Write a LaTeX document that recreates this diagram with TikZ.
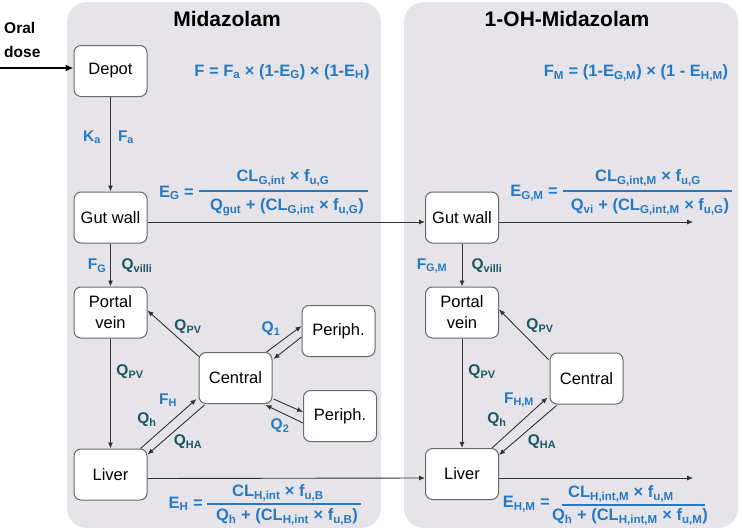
\documentclass[tikz,border=0pt]{standalone}
\usepackage{fontspec}
\setmainfont{Liberation Sans}
\usetikzlibrary{arrows.meta}
\definecolor{panelgray}{RGB}{230,228,233}
\definecolor{lblblue}{RGB}{38,122,196}
\definecolor{lblteal}{RGB}{28,88,100}
\definecolor{boxline}{RGB}{105,105,105}
\definecolor{connc}{RGB}{50,50,50}
\newcommand{\sbs}[1]{\textsubscript{#1}}
\tikzset{
  panel/.style={fill=panelgray, draw=none, rounded corners=20pt},
  cbox/.style={draw=boxline, fill=white, rounded corners=7pt, line width=1pt, minimum width=73pt, minimum height=51pt, inner sep=2pt, font=\fontsize{16.5}{21}\selectfont, align=center},
  ttl/.style={font=\fontsize{21}{24}\selectfont\bfseries, inner sep=0pt},
  bl/.style={text=lblblue, font=\fontsize{15.5}{17}\selectfont\bfseries, inner sep=0pt},
  tl/.style={text=lblteal, font=\fontsize{15.5}{17}\selectfont\bfseries, inner sep=0pt},
  fml/.style={text=lblblue, font=\fontsize{16.5}{18}\selectfont\bfseries, inner sep=0pt},
  fline/.style={draw=lblblue, line width=1.3pt},
  conn/.style={draw=connc, line width=0.9pt},
  arr/.style={conn, -{Latex[length=6pt,width=5pt]}},
}
\begin{document}
\begin{tikzpicture}[x=1pt, y=-1pt]
\useasboundingbox (0,0) rectangle (742,530);
% panels
\path[panel] (67,2) rectangle (381,528);
\path[panel] (404,2) rectangle (738,528);
\node[ttl] (t1) at (227,19) {Midazolam};
\node[ttl] (t2) at (567,19) {1-OH-Midazolam};
% oral dose
\node[font=\fontsize{15.5}{24}\selectfont\bfseries, align=left, anchor=west, inner sep=0pt] (oral) at (4,40) {Oral\\dose};
\coordinate (oin) at (0,68);
% left boxes
\node[cbox] (dep) at (110.5,71) {Depot};
\node[cbox] (lgut) at (110.5,217.5) {Gut wall};
\node[cbox] (lpv) at (110.5,312.5) {Portal\\vein};
\node[cbox] (lcen) at (235.5,378) {Central};
\node[cbox] (p1) at (338.5,331) {Periph.};
\node[cbox] (p2) at (340,416) {Periph.};
\node[cbox] (lliv) at (110.5,474.5) {Liver};
% right boxes
\node[cbox] (rgut) at (462,217.5) {Gut wall};
\node[cbox] (rpv) at (462,312.5) {Portal\\vein};
\node[cbox] (rcen) at (586.5,378.5) {Central};
\node[cbox] (rliv) at (462,474) {Liver};
\coordinate (gout) at (693,222);
\coordinate (lout) at (693,478);
% connectors
\draw[arr, line width=2pt, draw=black, -{Latex[length=8pt,width=7pt]}] (oin) -- ([yshift=3pt]dep.west);
\draw[arr] (dep) -- (lgut);
\draw[arr] (lgut) -- (lpv);
\draw[arr] (lpv) -- (lliv);
\draw[arr] ([xshift=1pt,yshift=-5pt]lcen.north west) -- ([yshift=2pt]lpv.east);
\draw[arr] ([xshift=-7pt]lliv.north east) -- ([xshift=-2pt,yshift=5pt]lcen.south west);
\draw[arr] ([xshift=6pt,yshift=-1pt]lcen.south west) -- ([yshift=-6pt]lliv.north east);
\draw[arr] ([xshift=-6pt]lcen.north east) -- ([yshift=5pt]p1.west);
\draw[arr] ([yshift=-6pt]p1.west) -- ([xshift=1pt,yshift=-7pt]lcen.north east);
\draw[arr] ([xshift=1pt,yshift=5pt]lcen.south east) -- ([yshift=4pt]p2.west);
\draw[arr] ([yshift=-7pt]p2.west) -- ([xshift=-7pt,yshift=-1pt]lcen.south east);
\draw[arr] ([yshift=-4.5pt]lgut.east) -- ([yshift=-4.5pt]rgut.west);
\draw[arr] ([yshift=-4pt]lliv.east) -- ([yshift=-4pt]rliv.west);
\draw[arr] ([yshift=-4.5pt]rgut.east) -- (gout);
\draw[arr] ([yshift=-4pt]rliv.east) -- (lout);
\draw[arr] (rgut) -- (rpv);
\draw[arr] (rpv) -- (rliv);
\draw[arr] ([xshift=-1pt,yshift=-7pt]rcen.north west) -- ([yshift=3pt]rpv.east);
\draw[arr] ([xshift=-7pt]rliv.north east) -- ([xshift=-2pt,yshift=7pt]rcen.south west);
\draw[arr] ([xshift=7pt,yshift=-1pt]rcen.south west) -- ([yshift=-7pt]rliv.north east);
% labels left
\node[bl] (ka) at (92,137) {K\sbs{a}};
\node[bl] (fa) at (126,137) {F\sbs{a}};
\node[bl] (fg) at (97,266) {F\sbs{G}};
\node[tl] (qv1) at (137,266) {Q\sbs{villi}};
\node[tl] (qpv1) at (188,327) {Q\sbs{PV}};
\node[tl] (qpv2) at (130,372) {Q\sbs{PV}};
\node[bl] (q1) at (271,329) {Q\sbs{1}};
\node[bl] (q2) at (280,426) {Q\sbs{2}};
\node[bl] (fh) at (168,400) {F\sbs{H}};
\node[tl] (qh1) at (147,420) {Q\sbs{h}};
\node[tl] (qha1) at (188,442) {Q\sbs{HA}};
% labels right
\node[bl] (fgm) at (432,266) {F\sbs{G,M}};
\node[tl] (qv2) at (487,266) {Q\sbs{villi}};
\node[tl] (qpv3) at (540,326) {Q\sbs{PV}};
\node[tl] (qpv4) at (482,372) {Q\sbs{PV}};
\node[bl] (fhm) at (519,400) {F\sbs{H,M}};
\node[tl] (qh2) at (497,420) {Q\sbs{h}};
\node[tl] (qha2) at (542,442) {Q\sbs{HA}};
% formulas
\node[fml] (ff) at (282,72) {F = F\sbs{a} × (1-E\sbs{G}) × (1-E\sbs{H})};
\node[fml] (ffm) at (636,73) {F\sbs{M} = (1-E\sbs{G,M}) × (1 - E\sbs{H,M})};
% E_G
\node[fml, anchor=east] (eg) at (194,193) {E\sbs{G} =};
\node[fml] (egn) at (283,178) {CL\sbs{G,int} × f\sbs{u,G}};
\node[fml] (egd) at (287,207) {Q\sbs{gut} + (CL\sbs{G,int} × f\sbs{u,G})};
\coordinate (eg1) at (199,191); \coordinate (eg2) at (368,191);
\draw[fline] (eg1) -- (eg2);
% E_GM
\node[fml, anchor=east] (egm) at (558,193) {E\sbs{G,M} =};
\node[fml] (egmn) at (648,178) {CL\sbs{G,int,M} × f\sbs{u,G}};
\node[fml] (egmd) at (650,207) {Q\sbs{vi} + (CL\sbs{G,int,M} × f\sbs{u,G})};
\coordinate (egm1) at (563,191); \coordinate (egm2) at (732,191);
\draw[fline] (egm1) -- (egm2);
% E_H
\node[fml, anchor=east] (eh) at (203,504) {E\sbs{H} =};
\node[fml] (ehn) at (278,493) {CL\sbs{H,int} × f\sbs{u,B}};
\node[fml] (ehd) at (287,517) {Q\sbs{h} + (CL\sbs{H,int} × f\sbs{u,B})};
\coordinate (eh1) at (207,504); \coordinate (eh2) at (361,504);
\draw[fline] (eh1) -- (eh2);
% E_HM
\node[fml, anchor=east] (ehm) at (550,504) {E\sbs{H,M} =};
\node[fml] (ehmn) at (621,494) {CL\sbs{H,int,M} × f\sbs{u,M}};
\node[fml] (ehmd) at (630,517) {Q\sbs{h} + (CL\sbs{H,int,M} × f\sbs{u,M})};
\coordinate (ehm1) at (562,505); \coordinate (ehm2) at (705,505);
\draw[fline] (ehm1) -- (ehm2);
\end{tikzpicture}
\end{document}
